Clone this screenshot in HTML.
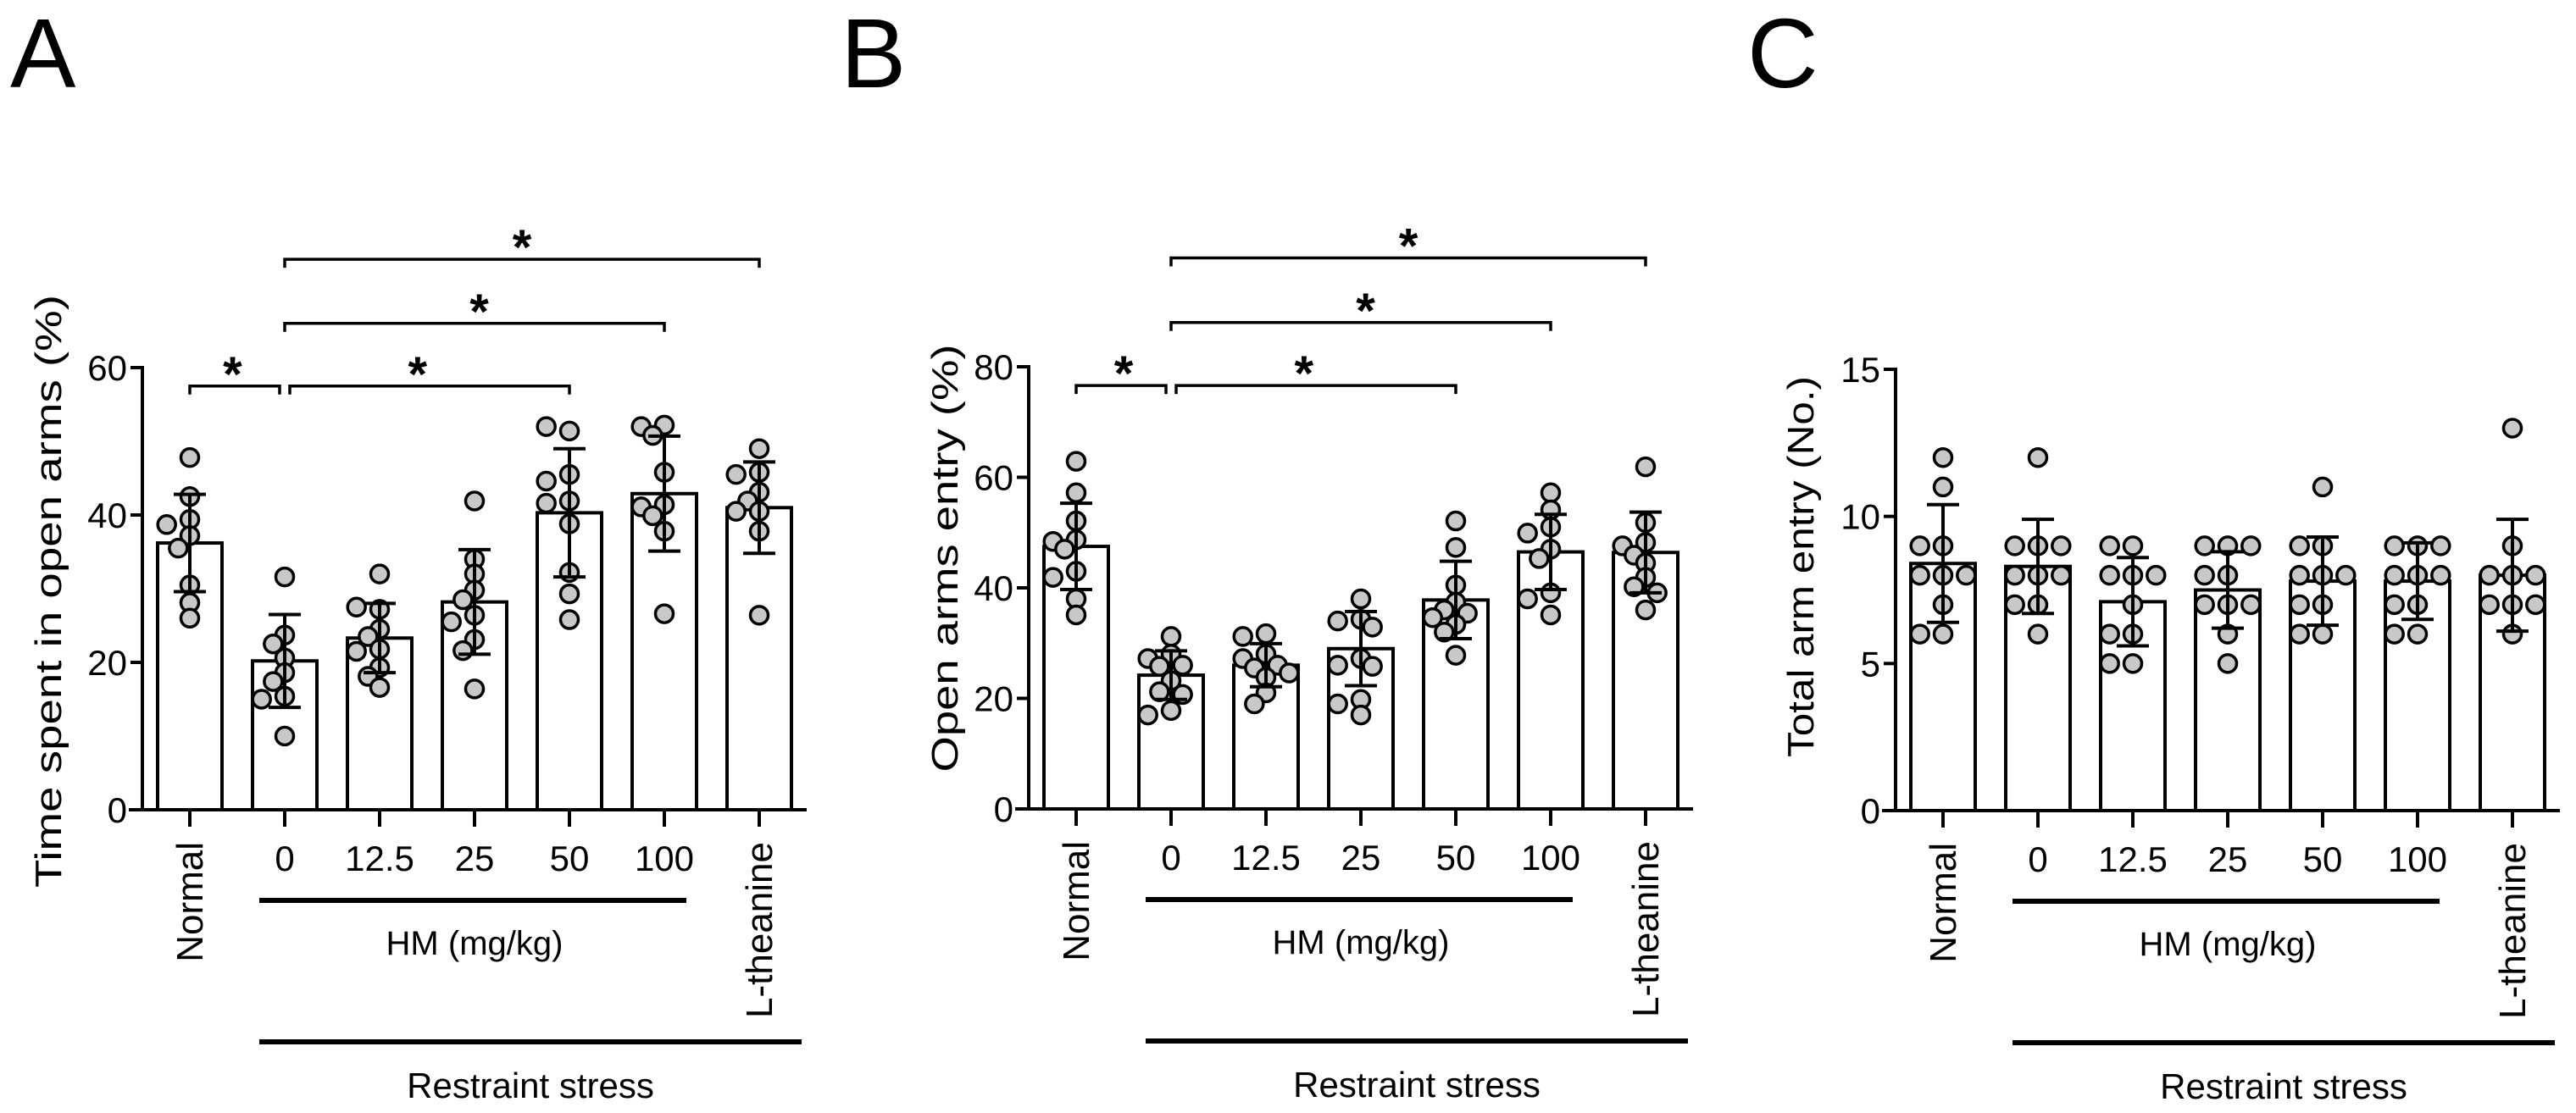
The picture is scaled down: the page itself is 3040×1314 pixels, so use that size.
<!DOCTYPE html>
<html><head><meta charset="utf-8"><style>
html,body{margin:0;padding:0;background:#fff;}
svg{display:block;font-family:"Liberation Sans",Arial,sans-serif;}
</style></head><body>
<svg id="fig" xmlns="http://www.w3.org/2000/svg" width="3040" height="1314" viewBox="0 0 3040 1314">
<text x="12" y="103" font-size="116">A</text>
<text x="992" y="103" font-size="116">B</text>
<text x="2062" y="103" font-size="116">C</text>
</svg>
<script>
const categories = ["Normal","0","12.5","25","50","100","L-theanine"];

const meansA = [36.2,20.2,23.3,28.2,40.3,42.9,41.0];
const sdsA = [6.6,6.3,4.7,7.1,8.7,7.8,6.2];
const pointsA = [
 [47.8,42.5,39.4,38.7,37.2,35.5,30.5,28.1,26.0],
 [31.6,23.7,22.5,20.6,18.6,17.4,15.4,15.0,10.0],
 [32.0,27.2,27.5,24.5,23.5,21.8,21.5,19.3,18.1,16.6],
 [41.9,34.0,32.0,29.8,28.5,26.4,25.5,23.1,21.6,16.4],
 [51.4,52.0,45.5,44.6,41.9,41.6,38.8,32.2,29.3,25.8],
 [52.2,52.0,50.8,45.8,41.4,41.1,39.9,37.8,26.6],
 [49.0,45.8,45.5,43.1,41.9,40.5,37.8,40.5,26.4]
];
const ticksA = [0,20,40,60];

const meansB = [47.5,24.2,26.0,29.0,37.8,46.5,46.4];
const sdsB = [7.8,4.4,3.9,6.7,7.0,6.8,7.3];
const pointsB = [
 [62.9,57.2,52.1,48.7,48.4,47.0,43.0,41.9,38.0,35.1],
 [31.2,28.0,27.2,26.0,25.8,23.2,21.2,20.7,17.8,17.0],
 [31.7,31.2,28.0,27.2,26.0,25.5,24.6,23.8,21.0,19.0],
 [38.0,34.3,34.0,32.9,27.2,26.0,25.8,19.8,19.0,17.0],
 [52.1,47.3,40.5,37.4,36.0,35.4,34.6,33.4,32.0,27.8],
 [57.2,54.1,51.0,49.9,47.0,45.3,39.1,38.0,35.1],
 [61.9,51.8,48.2,47.6,45.9,44.5,41.9,40.2,39.1,36.0]
];
const ticksB = [0,20,40,60,80];

const meansC = [8.4,8.3,7.1,7.5,7.8,7.8,8.0];
const sdsC = [2.0,1.6,1.5,1.3,1.5,1.3,1.9];
const pointsC = [
 [12,11,9,9,8,8,8,7,6,6],
 [12,9,9,9,8,8,8,7,7,6],
 [9,9,8,8,8,7,6,6,5,5],
 [9,9,9,8,8,7,7,7,6,5],
 [11,9,9,8,8,8,7,7,6,6],
 [9,9,9,8,8,8,7,7,6,6],
 [13,9,8,8,8,7,7,7,6]
];
const ticksC = [0,5,10,15];

// significance annotations: [fromIndex, toIndex, level(data units), starIndexPosition]
const sigFromA = [0,1,1,1], sigToA = [1,4,5,6], sigLevelA = [57.5,57.5,66,74.7], sigStarA = [0.45,2.4,3.05,3.5];
const sigFromB = [0,1,1,1], sigToB = [1,4,5,6], sigLevelB = [76.6,76.6,88,99.7], sigStarB = [0.5,2.4,3.05,3.5];

const NS="http://www.w3.org/2000/svg";
const svg=document.getElementById('fig');
function el(tag,attrs,parent,text){const e=document.createElementNS(NS,tag);for(const k in attrs)e.setAttribute(k,attrs[k]);if(text!==undefined)e.textContent=text;(parent||svg).appendChild(e);return e;}

function panel(cfg){
  const g=el('g',{});
  
  
  const axX=cfg.axisX, y0=cfg.y0, yTop=cfg.yTop, vmax=cfg.ticks[cfg.ticks.length-1];
  const ys=v=>y0-(v/vmax)*(y0-yTop);
  const xs=i=>axX+56+i*112;
  const bw=76, r=10.5;
  cfg.means.forEach((m,i)=>{
    const b=el('rect',{x:xs(i)-bw/2,y:ys(m),width:bw,height:y0-ys(m),fill:'#fff',stroke:'#000','stroke-width':4},g);
    
    
  });
  cfg.points.forEach((pts,i)=>{
    const placed=[];
    pts.forEach(v=>{
      const py=ys(v);
      const cands=[0,-1,1,-2,2];
      let px=xs(i);
      for(const c of cands){
        const cx=xs(i)+c*r*1.3;
        if(placed.every(p=>Math.hypot(p[0]-cx,p[1]-py)>=2*r*0.75)){px=cx;break;}
      }
      placed.push([px,py]);
      const c=el('circle',{cx:px,cy:py,r:r,fill:'#c8c8c8',stroke:'#000','stroke-width':3.5},g);
      
      
    });
  });
  cfg.means.forEach((m,i)=>{
    const x=xs(i),t=ys(m+cfg.sds[i]),b=ys(m-cfg.sds[i]);
    const e=el('path',{d:`M${x},${t}V${b}M${x-19},${t}H${x+19}M${x-19},${b}H${x+19}`,stroke:'#000','stroke-width':4,fill:'none'},g);
    
    
  });
  const ax=el('path',{d:`M${axX},${yTop-2}V${y0}M${axX-16},${y0}H${xs(6)+56}`,stroke:'#000','stroke-width':4,fill:'none'},g);
  
  
  cfg.ticks.forEach(t=>{
    el('line',{x1:axX-14,x2:axX,y1:ys(t),y2:ys(t),stroke:'#000','stroke-width':4},g);
    const tl=el('text',{x:axX-18,y:ys(t)+15,'font-size':42,'text-anchor':'end'},g,String(t));
    
    
  });
  categories.forEach((c,i)=>{
    el('line',{x1:xs(i),x2:xs(i),y1:y0,y2:y0+20,stroke:'#000','stroke-width':4},g);
    let t;
    if(i===0||i===6){
      t=el('text',{x:0,y:0,'font-size':44,'text-anchor':'end',transform:`translate(${xs(i)+15},${y0+38}) rotate(-90)`},g,c);
    } else {
      t=el('text',{x:xs(i),y:y0+72,'font-size':42,'text-anchor':'middle'},g,c);
    }
    
    
  });
  const hm=el('line',{x1:xs(1)-30,x2:xs(5)+26,y1:y0+107,y2:y0+107,stroke:'#000','stroke-width':6},g);
  
  
  const hmt=el('text',{x:(xs(1)+xs(5))/2,y:y0+171,'font-size':40,'text-anchor':'middle'},g,'HM (mg/kg)');
  
  
  const rs=el('line',{x1:xs(1)-30,x2:xs(6)+50,y1:y0+274,y2:y0+274,stroke:'#000','stroke-width':6},g);
  
  
  const rst=el('text',{x:(xs(1)-30+xs(6)+50)/2,y:y0+340,'font-size':42,'text-anchor':'middle'},g,'Restraint stress');
  
  
  const yt=el('text',{x:0,y:0,'font-size':44,'text-anchor':'middle',textLength:cfg.titleLen,lengthAdjust:'spacingAndGlyphs',transform:`translate(${cfg.titleX},${cfg.titleY}) rotate(-90)`},g,cfg.title);
  
  
  if(cfg.sigFrom){
    cfg.sigFrom.forEach((f,k)=>{
      const ly=ys(cfg.sigLevel[k]);
      let x1=xs(f),x2=xs(cfg.sigTo[k]);
      if(k===0)x2-=6; if(k===1)x1+=6;
      const p=el('path',{d:`M${x1},${ly+10}V${ly}H${x2}V${ly+10}`,stroke:'#000','stroke-width':3.5,fill:'none'},g);
      
      
      const s=el('text',{x:axX+56+cfg.sigStar[k]*112,y:ly+6,'font-size':58,'font-weight':'bold','text-anchor':'middle'},g,'*');
      
      
    });
  }
}

panel({name:'panel-a',axisX:168,y0:956,yTop:434,ticks:ticksA,means:meansA,sds:sdsA,points:pointsA,
  title:'Time spent in open arms (%)',titleX:72,titleY:698,titleLen:700,
  sigFrom:sigFromA,sigTo:sigToA,sigLevel:sigLevelA,sigStar:sigStarA});
panel({name:'panel-b',axisX:1214,y0:955,yTop:433,ticks:ticksB,means:meansB,sds:sdsB,points:pointsB,
  title:'Open arms entry  (%)',titleX:1130,titleY:659,titleLen:505,
  sigFrom:sigFromB,sigTo:sigToB,sigLevel:sigLevelB,sigStar:sigStarB});
panel({name:'panel-c',axisX:2237,y0:957,yTop:436,ticks:ticksC,means:meansC,sds:sdsC,points:pointsC,
  title:'Total arm entry (No.)',titleX:2140,titleY:669,titleLen:450});
</script>
</body></html>
